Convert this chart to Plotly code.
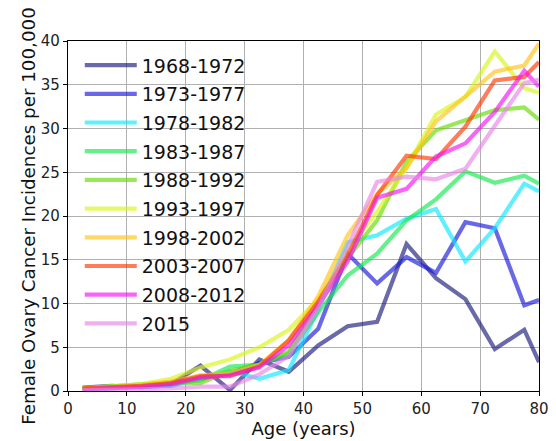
import plotly.graph_objects as go

# Age-group midpoints (years); the oldest group is plotted at the axis end
ages = [2.5, 7.5, 12.5, 17.5, 22.5, 27.5, 32.5, 37.5, 42.5, 47.5,
        52.5, 57.5, 62.5, 67.5, 72.5, 77.5, 80]

periods = ["1968-1972", "1973-1977", "1978-1982", "1983-1987", "1988-1992",
           "1993-1997", "1998-2002", "2003-2007", "2008-2012", "2015"]

# Incidence per 100,000 for each period, by age group
inc_1968_1972 = [0.4, 0.6, 0.4, 0.8, 2.9, 0.1, 3.6, 2.2, 5.2, 7.4, 7.9, 16.8, 12.9, 10.5, 4.8, 7.0, 3.3]
inc_1973_1977 = [0.2, 0.3, 0.4, 0.6, 1.6, 2.0, 3.2, 3.9, 7.1, 15.7, 12.3, 15.3, 13.5, 19.3, 18.6, 9.8, 10.4]
inc_1978_1982 = [0.3, 0.3, 0.5, 0.6, 1.3, 2.3, 1.4, 2.4, 9.3, 17.0, 17.8, 19.7, 20.8, 14.8, 18.6, 23.7, 22.8]
inc_1983_1987 = [0.3, 0.5, 0.8, 1.0, 1.2, 2.8, 3.0, 4.3, 9.0, 13.2, 15.7, 19.5, 21.9, 25.1, 23.8, 24.6, 23.7]
inc_1988_1992 = [0.3, 0.5, 0.8, 1.0, 0.9, 2.3, 3.0, 4.5, 9.9, 15.2, 19.5, 26.2, 29.8, 31.0, 32.1, 32.4, 31.0]
inc_1993_1997 = [0.3, 0.5, 0.8, 1.4, 2.7, 3.6, 5.0, 7.0, 10.5, 16.0, 20.5, 25.5, 31.6, 33.6, 38.8, 34.6, 34.1]
inc_1998_2002 = [0.3, 0.4, 0.7, 1.1, 1.8, 2.0, 3.0, 5.8, 10.8, 17.8, 22.5, 25.5, 30.8, 33.6, 36.5, 37.2, 39.7]
inc_2003_2007 = [0.3, 0.4, 0.6, 0.9, 1.7, 1.7, 2.8, 5.8, 10.2, 15.5, 22.4, 26.9, 26.5, 30.2, 35.5, 35.9, 37.6]
inc_2008_2012 = [0.2, 0.3, 0.5, 0.8, 1.5, 1.8, 2.7, 5.2, 9.8, 14.8, 22.1, 23.1, 26.8, 28.3, 31.9, 36.6, 34.8]
inc_2015 = [0.1, 0.1, 0.2, 0.3, 0.5, 0.5, 1.9, 4.0, 9.5, 16.5, 23.9, 24.5, 24.2, 25.4, 30.2, 35.2, 35.6]

series = [inc_1968_1972, inc_1973_1977, inc_1978_1982, inc_1983_1987, inc_1988_1992,
          inc_1993_1997, inc_1998_2002, inc_2003_2007, inc_2008_2012, inc_2015]

colors = ["rgba(26,26,124,0.65)", "rgba(24,24,220,0.65)", "rgba(9,232,255,0.65)",
          "rgba(17,232,75,0.65)", "rgba(100,220,0,0.65)", "rgba(217,244,26,0.65)",
          "rgba(255,195,23,0.65)", "rgba(255,55,0,0.65)", "rgba(244,17,244,0.65)",
          "rgba(232,133,232,0.65)"]

x_ticks = [0, 10, 20, 30, 40, 50, 60, 70, 80]
y_ticks = [0, 5, 10, 15, 20, 25, 30, 35, 40]

FONT = "DejaVu Sans"

fig = go.Figure()
for name, vals, col in zip(periods, series, colors):
    fig.add_trace(go.Scatter(
        x=ages, y=vals, mode="lines", name=name, legendgroup=name,
        line=dict(color=col, width=4.2),
    ))

axis_common = dict(
    showline=True, linecolor="black", linewidth=1.2, mirror=True,
    ticks="outside", ticklen=4, tickwidth=1, tickcolor="black",
    showgrid=True, gridcolor="#b0b0b0", gridwidth=1.2,
    zeroline=False, automargin=False,
    tickfont=dict(family=FONT, size=15, color="#222222"),
)

fig.update_layout(
    width=556, height=441,
    margin=dict(l=68, r=17, t=41, b=50),
    paper_bgcolor="white", plot_bgcolor="white",
    font=dict(family=FONT, color="#111111"),
    xaxis=dict(range=[0, 80], tickvals=x_ticks,
               title=dict(text="Age (years)", font=dict(family=FONT, size=18), standoff=0),
               **axis_common),
    yaxis=dict(range=[0, 40], tickvals=y_ticks,
               title=dict(text="Female Ovary Cancer Incidences per 100,000",
                          font=dict(family=FONT, size=18.3), standoff=0),
               **axis_common),
    legend=dict(x=0.025, y=0.985, xanchor="left", yanchor="top",
                bgcolor="rgba(0,0,0,0)", font=dict(family=FONT, size=19, color="#111111"),
                itemwidth=52, tracegroupgap=1),
    showlegend=True,
)

fig.write_html("out.html")
